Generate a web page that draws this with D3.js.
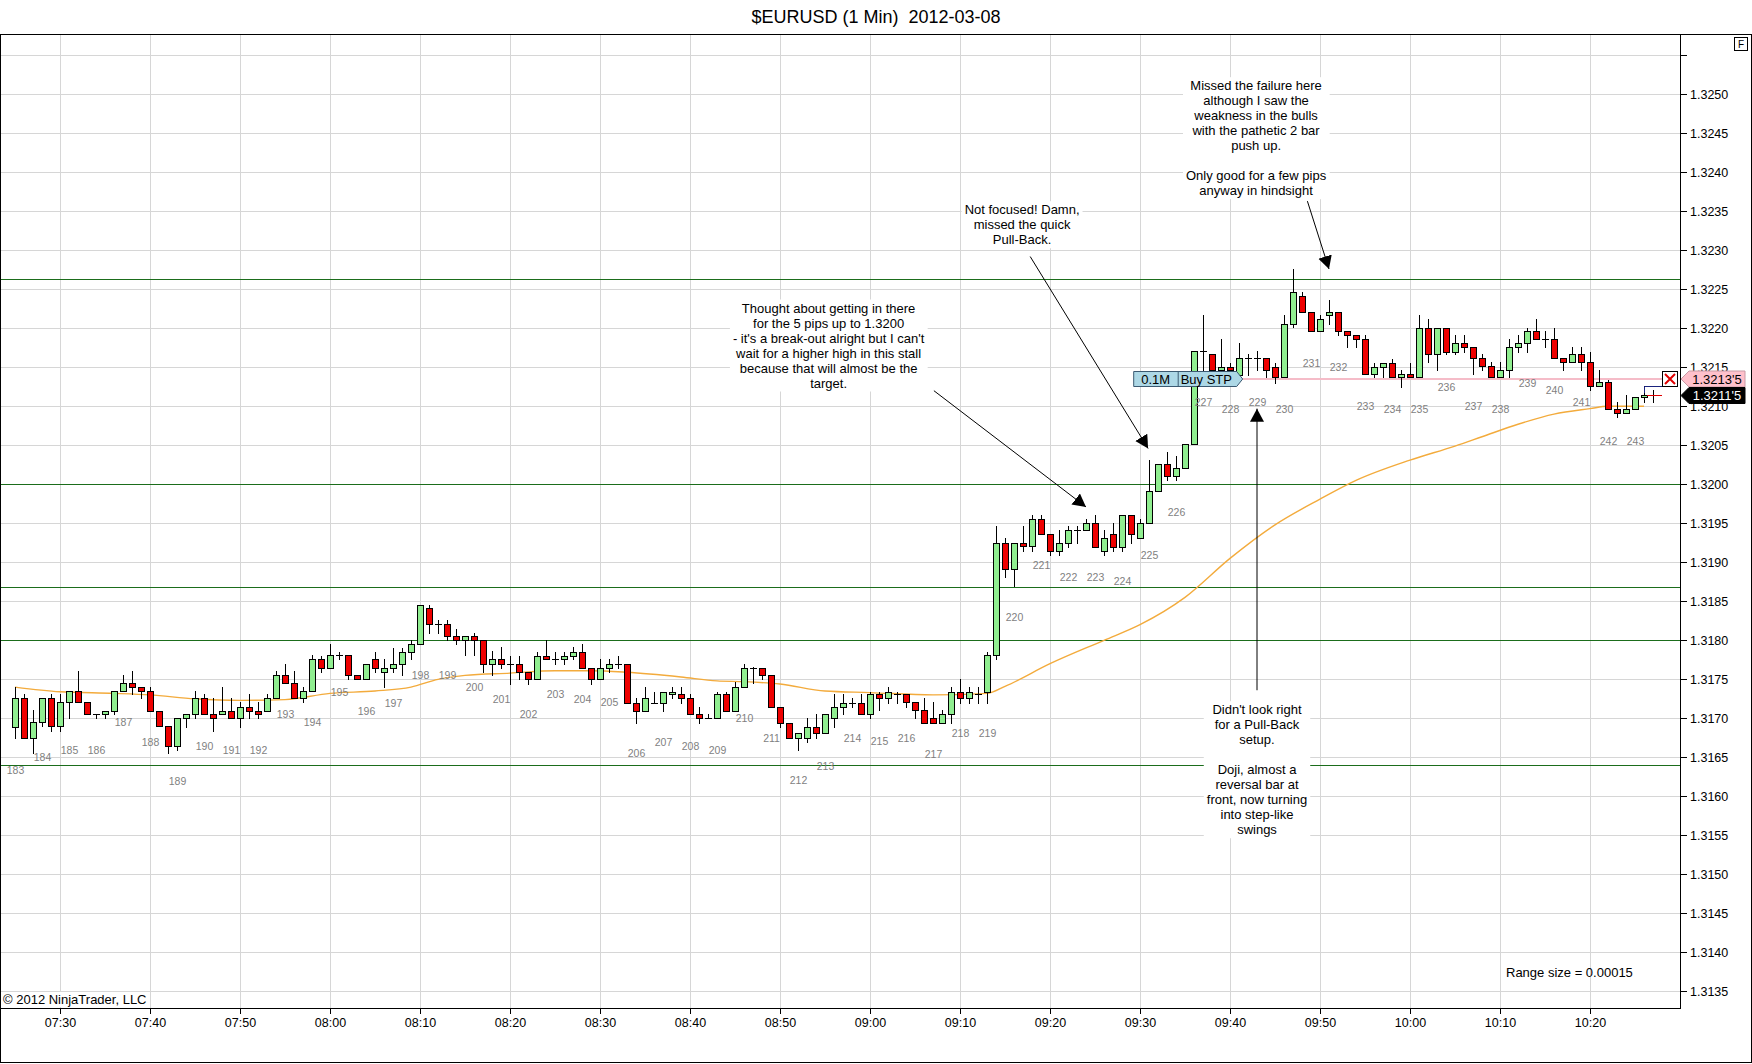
<!DOCTYPE html>
<meta charset="utf-8">
<style>
body { margin: 0; background: #fff; }
svg { display: block; font-family: "Liberation Sans", Arial, sans-serif; }
.grid line { stroke: #d6d6d6; stroke-width: 1; shape-rendering: crispEdges; }
.level { stroke: #1b6d1b; stroke-width: 1.3; shape-rendering: crispEdges; }
.wick { stroke: #000; stroke-width: 1; shape-rendering: crispEdges; }
.body { stroke: #000; stroke-width: 1; shape-rendering: crispEdges; }
.swing { fill: #7f7f7f; font-size: 10.5px; text-anchor: middle; }
.note { font-size: 13px; text-anchor: middle; fill: #000; }
.axis text { font-size: 12.5px; fill: #000; }
.axis line { stroke: #000; shape-rendering: crispEdges; }
</style>
<body>
<script src="https://d3js.org/d3.v7.min.js"></script>
<script>

// ---- data ----
var title = "$EURUSD (1 Min)  2012-03-08";
var firstBar = "07:25";

// open, high, low, close per 1 minute bar
var ohlc = [
    [1.31689,1.31740,1.31675,1.31726],[1.31726,1.31731,1.31675,1.31675],[1.31675,1.31711,1.31655,1.31695],
    [1.31695,1.31726,1.31690,1.31726],[1.31726,1.31731,1.31684,1.31690],[1.31690,1.31731,1.31684,1.31721],
    [1.31721,1.31735,1.31700,1.31735],[1.31735,1.31761,1.31721,1.31721],[1.31721,1.31721,1.31705,1.31705],
    [1.31705,1.31705,1.31700,1.31705],[1.31705,1.31710,1.31700,1.31710],[1.31710,1.31735,1.31705,1.31735],
    [1.31735,1.31755,1.31735,1.31745],[1.31745,1.31761,1.31731,1.31740],[1.31740,1.31740,1.31726,1.31735],
    [1.31735,1.31740,1.31710,1.31710],[1.31710,1.31710,1.31690,1.31690],[1.31690,1.31690,1.31655,1.31665],
    [1.31665,1.31700,1.31660,1.31700],[1.31700,1.31705,1.31689,1.31705],[1.31705,1.31735,1.31700,1.31726],
    [1.31726,1.31731,1.31705,1.31705],[1.31705,1.31726,1.31684,1.31700],[1.31705,1.31740,1.31705,1.31710],
    [1.31710,1.31726,1.31700,1.31700],[1.31700,1.31721,1.31689,1.31715],[1.31715,1.31731,1.31700,1.31710],
    [1.31710,1.31721,1.31700,1.31705],[1.31710,1.31731,1.31710,1.31726],[1.31726,1.31761,1.31726,1.31755],
    [1.31755,1.31770,1.31745,1.31745],[1.31745,1.31761,1.31726,1.31726],[1.31726,1.31740,1.31721,1.31735],
    [1.31735,1.31781,1.31735,1.31776],[1.31776,1.31780,1.31760,1.31765],[1.31765,1.31795,1.31765,1.31781],
    [1.31781,1.31785,1.31776,1.31781],[1.31781,1.31781,1.31750,1.31755],[1.31755,1.31755,1.31750,1.31750],
    [1.31750,1.31770,1.31750,1.31770],[1.31776,1.31785,1.31760,1.31765],[1.31760,1.31776,1.31740,1.31765],
    [1.31765,1.31790,1.31760,1.31770],[1.31770,1.31790,1.31755,1.31785],[1.31785,1.31800,1.31776,1.31795],
    [1.31795,1.31845,1.31795,1.31845],[1.31841,1.31845,1.31810,1.31821],[1.31821,1.31826,1.31810,1.31821],
    [1.31821,1.31826,1.31800,1.31805],[1.31805,1.31815,1.31795,1.31800],[1.31800,1.31805,1.31781,1.31805],
    [1.31805,1.31810,1.31781,1.31800],[1.31800,1.31800,1.31760,1.31770],[1.31770,1.31786,1.31755,1.31776],
    [1.31776,1.31791,1.31765,1.31770],[1.31770,1.31780,1.31744,1.31770],[1.31770,1.31780,1.31750,1.31760],
    [1.31760,1.31760,1.31744,1.31750],[1.31750,1.31785,1.31750,1.31780],[1.31780,1.31800,1.31776,1.31776],
    [1.31776,1.31785,1.31770,1.31776],[1.31776,1.31785,1.31770,1.31780],[1.31780,1.31791,1.31776,1.31785],
    [1.31785,1.31795,1.31765,1.31765],[1.31765,1.31765,1.31744,1.31750],[1.31750,1.31776,1.31750,1.31765],
    [1.31765,1.31776,1.31760,1.31770],[1.31770,1.31780,1.31765,1.31770],[1.31770,1.31770,1.31720,1.31720],
    [1.31720,1.31726,1.31694,1.31710],[1.31710,1.31740,1.31710,1.31726],[1.31720,1.31734,1.31720,1.31720],
    [1.31720,1.31734,1.31710,1.31734],[1.31731,1.31740,1.31726,1.31734],[1.31731,1.31740,1.31720,1.31726],
    [1.31726,1.31731,1.31705,1.31705],[1.31705,1.31715,1.31694,1.31700],[1.31700,1.31705,1.31700,1.31700],
    [1.31700,1.31734,1.31700,1.31731],[1.31731,1.31734,1.31710,1.31710],[1.31710,1.31746,1.31710,1.31740],
    [1.31740,1.31770,1.31740,1.31765],[1.31765,1.31766,1.31745,1.31765],[1.31765,1.31765,1.31750,1.31755],
    [1.31755,1.31755,1.31715,1.31715],[1.31715,1.31715,1.31689,1.31694],[1.31694,1.31694,1.31675,1.31675],
    [1.31675,1.31681,1.31660,1.31681],[1.31675,1.31700,1.31670,1.31689],[1.31689,1.31705,1.31675,1.31681],
    [1.31681,1.31705,1.31681,1.31705],[1.31700,1.31731,1.31689,1.31715],[1.31715,1.31731,1.31705,1.31720],
    [1.31720,1.31726,1.31715,1.31720],[1.31720,1.31731,1.31705,1.31705],[1.31705,1.31734,1.31700,1.31731],
    [1.31731,1.31734,1.31711,1.31726],[1.31726,1.31740,1.31720,1.31734],[1.31731,1.31734,1.31720,1.31731],
    [1.31731,1.31731,1.31715,1.31721],[1.31721,1.31721,1.31700,1.31711],[1.31711,1.31726,1.31694,1.31694],
    [1.31700,1.31721,1.31694,1.31694],[1.31694,1.31711,1.31694,1.31705],[1.31705,1.31740,1.31694,1.31734],
    [1.31734,1.31750,1.31720,1.31726],[1.31726,1.31740,1.31720,1.31734],[1.31731,1.31740,1.31720,1.31731],
    [1.31734,1.31785,1.31720,1.31781],[1.31781,1.31947,1.31776,1.31925],[1.31925,1.31931,1.31881,1.31891],
    [1.31891,1.31925,1.31870,1.31925],[1.31925,1.31947,1.31915,1.31921],[1.31921,1.31961,1.31915,1.31955],
    [1.31955,1.31961,1.31936,1.31936],[1.31936,1.31936,1.31910,1.31915],[1.31915,1.31941,1.31910,1.31925],
    [1.31925,1.31947,1.31920,1.31941],[1.31941,1.31947,1.31925,1.31941],[1.31941,1.31955,1.31941,1.31950],
    [1.31950,1.31961,1.31920,1.31920],[1.31915,1.31941,1.31910,1.31931],[1.31936,1.31950,1.31915,1.31920],
    [1.31920,1.31961,1.31915,1.31961],[1.31961,1.31961,1.31925,1.31936],[1.31931,1.31955,1.31931,1.31950],
    [1.31950,1.32031,1.31950,1.31991],[1.31991,1.32026,1.31991,1.32026],[1.32026,1.32041,1.32006,1.32011],
    [1.32011,1.32036,1.32006,1.32021],[1.32021,1.32052,1.32021,1.32052],[1.32052,1.32171,1.32052,1.32171],
    [1.32171,1.32217,1.32147,1.32171],[1.32167,1.32167,1.32147,1.32147],[1.32147,1.32186,1.32147,1.32151],
    [1.32151,1.32155,1.32147,1.32147],[1.32140,1.32181,1.32140,1.32162],[1.32162,1.32167,1.32140,1.32162],
    [1.32162,1.32171,1.32147,1.32162],[1.32162,1.32162,1.32138,1.32147],[1.32151,1.32156,1.32130,1.32138],
    [1.32138,1.32217,1.32138,1.32206],[1.32206,1.32276,1.32202,1.32246],[1.32241,1.32246,1.32221,1.32221],
    [1.32221,1.32221,1.32196,1.32196],[1.32196,1.32217,1.32196,1.32212],[1.32217,1.32236,1.32206,1.32221],
    [1.32221,1.32221,1.32191,1.32196],[1.32196,1.32196,1.32176,1.32191],[1.32191,1.32191,1.32176,1.32186],
    [1.32186,1.32191,1.32141,1.32141],[1.32141,1.32156,1.32138,1.32151],[1.32151,1.32156,1.32138,1.32156],
    [1.32156,1.32161,1.32138,1.32138],[1.32138,1.32147,1.32125,1.32141],[1.32141,1.32156,1.32138,1.32138],
    [1.32138,1.32217,1.32138,1.32201],[1.32201,1.32212,1.32157,1.32167],[1.32167,1.32201,1.32147,1.32201],
    [1.32201,1.32201,1.32167,1.32170],[1.32170,1.32191,1.32167,1.32181],[1.32181,1.32191,1.32170,1.32176],
    [1.32176,1.32176,1.32141,1.32162],[1.32162,1.32167,1.32147,1.32152],[1.32152,1.32157,1.32137,1.32137],
    [1.32137,1.32157,1.32137,1.32147],[1.32147,1.32186,1.32137,1.32176],[1.32176,1.32191,1.32170,1.32181],
    [1.32181,1.32201,1.32170,1.32196],[1.32196,1.32212,1.32186,1.32186],[1.32186,1.32196,1.32176,1.32186],
    [1.32186,1.32201,1.32162,1.32162],[1.32162,1.32162,1.32147,1.32157],[1.32157,1.32176,1.32157,1.32167],
    [1.32167,1.32176,1.32147,1.32157],[1.32157,1.32170,1.32121,1.32126],[1.32126,1.32147,1.32126,1.32131],
    [1.32131,1.32134,1.32096,1.32096],[1.32096,1.32106,1.32086,1.32091],[1.32091,1.32115,1.32091,1.32096],
    [1.32096,1.32112,1.32096,1.32112],[1.32112,1.32126,1.32106,1.32115],[1.32115,1.32121,1.32106,1.32115]
];

// orange moving average, read at [bar, price]
var smaPoints = [
    [0,1.31740],[5,1.31734],[11,1.31732],[15,1.31730],[20,1.31725],[25,1.31723],[30,1.31724],
    [35,1.31732],[40,1.31735],[44,1.31740],[47,1.31750],[50,1.31755],[55,1.31758],[60,1.31761],
    [64,1.31761],[68,1.31759],[74,1.31753],[78,1.31748],[81,1.31747],[85,1.31744],[90,1.31735],
    [95,1.31733],[102,1.31730],[108,1.31732],[110,1.31741],[115,1.31770],[121,1.31800],[125,1.31820],
    [130,1.31855],[135,1.31905],[140,1.31948],[145,1.31981],[149,1.32005],[155,1.32031],[160,1.32049],
    [163,1.32061],[167,1.32077],[171,1.32090],[175,1.32097],[177,1.32100],[181,1.32100]
];

// green horizontal lines
var levels = [1.32263, 1.32000, 1.31868, 1.31800, 1.31640];

// grey bar counters: first number, every 3rd bar, price where drawn
var swingFirst = 183;
var swingStep = 3;
var swingLevels = [
    1.31634,1.31650,1.31660,1.31660,1.31695,1.31670,1.31620,1.31665,1.31660,1.31660,
    1.31705,1.31695,1.31734,1.31710,1.31720,1.31755,1.31755,1.31740,1.31725,1.31706,
    1.31731,1.31725,1.31721,1.31655,1.31670,1.31665,1.31660,1.31700,1.31675,1.31621,
    1.31639,1.31675,1.31671,1.31675,1.31654,1.31681,1.31681,1.31830,1.31896,1.31881,
    1.31881,1.31876,1.31910,1.31965,1.32106,1.32096,1.32106,1.32096,1.32156,1.32151,
    1.32101,1.32096,1.32096,1.32125,1.32101,1.32096,1.32130,1.32121,1.32106,1.32056,
    1.32056
];

var timeTicks = ["07:30","07:40","07:50","08:00","08:10","08:20","08:30","08:40","08:50",
                 "09:00","09:10","09:20","09:30","09:40","09:50","10:00","10:10","10:20"];

var buyStop = 1.32135;
var orderLabel = ["0.1M", "Buy STP"];
var lastPrice = 1.32115;
var askPrice = 1.32126;

// notes: text lines, top line centre [bar, price], arrow from / to [bar, price]
var notes = [
    {lines: ["Missed the failure here", "although I saw the", "weakness in the bulls", "with the pathetic 2 bar",
             "push up.", "", "Only good for a few pips", "anyway in hindsight"],
     at: [137.9, 1.32511], from: [143.6, 1.32363], to: [146.0, 1.32276]},
    {lines: ["Not focused! Damn,", "missed the quick", "Pull-Back."],
     at: [111.9, 1.32352], from: [112.8, 1.32292], to: [125.9, 1.32046]},
    {lines: ["Thought about getting in there", "for the 5 pips up to 1.3200", "- it's a break-out alright but I can't",
             "wait for a higher high in this stall", "because that will almost be the", "target."],
     at: [90.4, 1.32226], from: [102.1, 1.32120], to: [119.0, 1.31971]},
    {lines: ["Didn't look right", "for a Pull-Back", "setup.", "", "Doji, almost a", "reversal bar at",
             "front, now turning", "into step-like", "swings"],
     at: [138.0, 1.31711], from: [138.0, 1.31736], to: [138.0, 1.32097]}
];

// ---- drawing ----
var W = 1752, H = 1064;
var plotL = 1, plotR = 1680, plotT = 35, plotB = 1008.5;

function toMin(t) { var p = t.split(":"); return +p[0] * 60 + +p[1]; }
function fmtTick(p) { var s = p.toFixed(5); return s.slice(0, 6) + "'" + s.slice(6); }

var x = d3.scaleLinear().domain([-5 / 3, 185]).range([0, 1680]);
var y = d3.scaleLinear().domain([1.31328, 1.32576]).range([plotB, plotT]);

var svg = d3.select("body").append("svg").attr("width", W).attr("height", H);
var defs = svg.append("defs");
defs.append("clipPath").attr("id", "clip").append("rect")
    .attr("x", plotL).attr("y", plotT).attr("width", plotR - plotL).attr("height", plotB - plotT);
defs.append("marker").attr("id", "head").attr("markerUnits", "userSpaceOnUse")
    .attr("markerWidth", 16).attr("markerHeight", 16).attr("refX", 13).attr("refY", 7)
    .attr("orient", "auto")
    .append("path").attr("d", "M0,0L13,7L0,14Z").attr("fill", "#000");

// title
svg.append("text").attr("x", 876).attr("y", 23).attr("text-anchor", "middle")
    .style("font-size", "18px").style("white-space", "pre").text(title);

var plot = svg.append("g").attr("clip-path", "url(#clip)");

// grid
var yTicks = y.ticks(24);
var xTickIdx = timeTicks.map(function (t) { return toMin(t) - toMin(firstBar); });
var grid = plot.append("g").attr("class", "grid");
grid.selectAll(".h").data(yTicks).enter().append("line")
    .attr("x1", plotL).attr("x2", plotR)
    .attr("y1", function (d) { return Math.round(y(d)) + 0.5; })
    .attr("y2", function (d) { return Math.round(y(d)) + 0.5; });
grid.selectAll(".v").data(xTickIdx).enter().append("line")
    .attr("y1", plotT).attr("y2", plotB)
    .attr("x1", function (d) { return x(d) + 0.5; })
    .attr("x2", function (d) { return x(d) + 0.5; });

// green levels
plot.selectAll(".level").data(levels).enter().append("line")
    .attr("class", "level")
    .attr("x1", plotL).attr("x2", plotR)
    .attr("y1", function (d) { return Math.round(y(d)) + 0.5; })
    .attr("y2", function (d) { return Math.round(y(d)) + 0.5; });

// buy stop line
plot.append("line")
    .attr("x1", x(124.3)).attr("x2", 1662)
    .attr("y1", y(buyStop)).attr("y2", y(buyStop))
    .attr("stroke", "#f5bcc8").attr("stroke-width", 2.2);

// moving average
plot.append("path").datum(smaPoints)
    .attr("fill", "none").attr("stroke", "#f3ab3c").attr("stroke-width", 1.4)
    .attr("d", d3.line().curve(d3.curveMonotoneX)
        .x(function (d) { return x(d[0]); })
        .y(function (d) { return y(d[1]); }));

// candles
var bars = ohlc.map(function (d, i) { return {i: i, o: d[0], h: d[1], l: d[2], c: d[3]}; });
var bar = plot.selectAll(".bar").data(bars).enter().append("g").attr("class", "bar");
bar.append("line").attr("class", "wick")
    .attr("x1", function (d) { return x(d.i) + 0.5; })
    .attr("x2", function (d) { return x(d.i) + 0.5; })
    .attr("y1", function (d) { return Math.round(y(d.h)); })
    .attr("y2", function (d) { return Math.round(y(d.l)) + 1; });
bar.filter(function (d) { return Math.abs(d.o - d.c) > 0.000005; })
    .append("rect").attr("class", "body")
    .attr("x", function (d) { return x(d.i) - 2.5; })
    .attr("width", 6)
    .attr("y", function (d) { return Math.round(y(Math.max(d.o, d.c))) + 0.5; })
    .attr("height", function (d) { return Math.max(1, Math.round(y(Math.min(d.o, d.c))) - Math.round(y(Math.max(d.o, d.c)))); })
    .attr("fill", function (d) { return d.c > d.o ? "#90ee90" : "#ee0000"; });
bar.filter(function (d) { return Math.abs(d.o - d.c) <= 0.000005; })
    .append("line").attr("class", "wick")
    .attr("x1", function (d) { return x(d.i) - 3; })
    .attr("x2", function (d) { return x(d.i) + 4; })
    .attr("y1", function (d) { return Math.round(y(d.o)) + 0.5; })
    .attr("y2", function (d) { return Math.round(y(d.o)) + 0.5; });

// last price tick and ask marker
var lastIdx = ohlc.length - 1;
plot.append("line").attr("x1", x(lastIdx) - 6).attr("x2", 1662)
    .attr("y1", Math.round(y(lastPrice)) + 0.5).attr("y2", Math.round(y(lastPrice)) + 0.5)
    .attr("stroke", "#e00000").attr("stroke-width", 1);
plot.append("path")
    .attr("d", "M" + (x(lastIdx - 1) + 0.5) + "," + (Math.round(y(lastPrice)) - 2) +
        "V" + (Math.round(y(askPrice)) + 0.5) + "H1662")
    .attr("fill", "none").attr("stroke", "#1a237e").attr("stroke-width", 1);

// bar counters
plot.selectAll(".swing").data(swingLevels).enter().append("text")
    .attr("class", "swing")
    .attr("x", function (d, k) { return x(k * swingStep) + 0.5; })
    .attr("y", function (d) { return y(d) + 4; })
    .text(function (d, k) { return swingFirst + k; });

// notes
var noteG = svg.append("g");
notes.forEach(function (n) {
    var g = noteG.append("g");
    g.append("line")
        .attr("x1", x(n.from[0])).attr("y1", y(n.from[1]))
        .attr("x2", x(n.to[0])).attr("y2", y(n.to[1]))
        .attr("stroke", "#000").attr("stroke-width", 1)
        .attr("marker-end", "url(#head)");
    var bg = g.append("rect").attr("fill", "#fff");
    var t = g.append("text").attr("class", "note");
    n.lines.forEach(function (line, k) {
        t.append("tspan").attr("x", x(n.at[0]))
            .attr("y", y(n.at[1]) + 4.5 + k * 15)
            .text(line === "" ? "\u00a0" : line);
    });
    var b = t.node().getBBox();
    bg.attr("x", b.x - 3).attr("y", b.y - 1).attr("width", b.width + 6).attr("height", b.height + 2);
});

// order label
var oy = y(buyStop), ox = x(124.3);
var og = svg.append("g");
og.append("path")
    .attr("d", "M" + ox + "," + (oy - 7.5) + "H" + (ox + 103) + "L" + (ox + 109) + "," + oy +
        "L" + (ox + 103) + "," + (oy + 7.5) + "H" + ox + "Z")
    .attr("fill", "#add8e6").attr("stroke", "#3c5a72").attr("stroke-width", 1);
og.append("line").attr("x1", ox + 44.5).attr("x2", ox + 44.5).attr("y1", oy - 7.5).attr("y2", oy + 7.5)
    .attr("stroke", "#3c5a72");
og.append("text").attr("x", ox + 22).attr("y", oy + 5).attr("text-anchor", "middle")
    .style("font-size", "13px").text(orderLabel[0]);
og.append("text").attr("x", ox + 47).attr("y", oy + 5)
    .style("font-size", "13px").text(orderLabel[1]);

// frame and axes
svg.append("rect").attr("x", 0.5).attr("y", plotT - 0.5).attr("width", W - 1).attr("height", H - plotT - 1)
    .attr("fill", "none").attr("stroke", "#000");
svg.append("line").attr("x1", plotR + 0.5).attr("x2", plotR + 0.5).attr("y1", plotT).attr("y2", plotB)
    .attr("stroke", "#000");
svg.append("line").attr("x1", 0).attr("x2", plotR + 1).attr("y1", plotB).attr("y2", plotB)
    .attr("stroke", "#000");

var ya = svg.append("g").attr("class", "axis");
ya.selectAll("line").data(yTicks).enter().append("line")
    .attr("x1", plotR).attr("x2", plotR + 7)
    .attr("y1", function (d) { return Math.round(y(d)) + 0.5; })
    .attr("y2", function (d) { return Math.round(y(d)) + 0.5; });
ya.selectAll("text").data(yTicks.filter(function (d) { return d < 1.32505; })).enter().append("text")
    .attr("x", plotR + 10).attr("y", function (d) { return y(d) + 4.5; })
    .text(d3.format(".4f"));

var xa = svg.append("g").attr("class", "axis");
xa.selectAll("line").data(xTickIdx).enter().append("line")
    .attr("x1", function (d) { return x(d) + 0.5; })
    .attr("x2", function (d) { return x(d) + 0.5; })
    .attr("y1", plotB).attr("y2", plotB + 5);
xa.selectAll("text").data(timeTicks).enter().append("text")
    .attr("x", function (d, k) { return x(xTickIdx[k]) + 0.5; })
    .attr("y", plotB + 18).attr("text-anchor", "middle")
    .text(function (d) { return d; });

// price tags on the right
var py = y(buyStop), ly = y(lastPrice);
var xb = svg.append("g");
xb.append("rect").attr("x", 1662.5).attr("y", py - 7.5).attr("width", 15).attr("height", 15)
    .attr("fill", "#fff").attr("stroke", "#000");
xb.append("path").attr("d", "M1665," + (py - 5) + "L1675," + (py + 5) + "M1675," + (py - 5) + "L1665," + (py + 5))
    .attr("stroke", "#e00000").attr("stroke-width", 2);

function tag(price, yy, fill, color) {
    svg.append("path")
        .attr("d", "M1681," + yy + "L1689," + (yy - 8) + "H1745V" + (yy + 8) + "H1689Z")
        .attr("fill", fill).attr("stroke", fill === "#000" ? "#000" : "#c89aa5");
    svg.append("text").attr("x", 1717).attr("y", yy + 4.5).attr("text-anchor", "middle")
        .style("font-size", "13px").attr("fill", color).text(fmtTick(price));
}
tag(buyStop, py, "#ffc0cb", "#000");
tag(lastPrice, Math.max(ly, py + 16.5), "#000", "#fff");

// F box
svg.append("rect").attr("x", 1734.5).attr("y", 37.5).attr("width", 13).attr("height", 13)
    .attr("fill", "#fff").attr("stroke", "#000");
svg.append("text").attr("x", 1741).attr("y", 48).attr("text-anchor", "middle")
    .style("font-size", "10px").text("F");

// footer texts
var copy = svg.append("g");
var ct = copy.append("text").attr("x", 3).attr("y", 1004).style("font-size", "13px")
    .text("\u00a9 2012 NinjaTrader, LLC");
var cb = ct.node().getBBox();
copy.insert("rect", "text").attr("x", cb.x - 1).attr("y", cb.y).attr("width", cb.width + 2).attr("height", cb.height)
    .attr("fill", "#fff");
svg.append("text").attr("x", 1506).attr("y", 977).style("font-size", "13px")
    .text("Range size = 0.00015");

</script>
</body>
